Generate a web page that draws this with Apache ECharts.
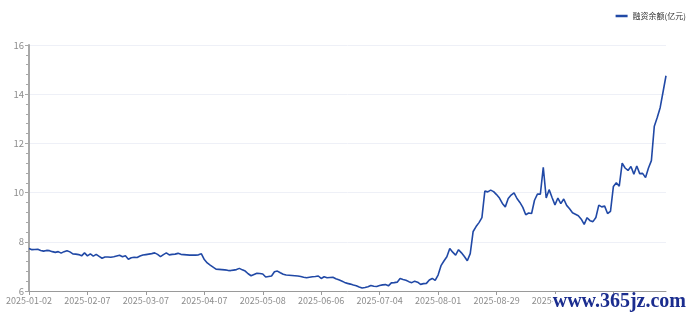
<!DOCTYPE html>
<html>
<head>
<meta charset="utf-8">
<script src="https://cdn.jsdelivr.net/npm/echarts@6/dist/echarts.min.js"></script>
<style>
html,body{margin:0;padding:0;background:#fff;}
#c{width:693px;height:316px;}
</style>
</head>
<body>
<div id="c"></div>
<script>
// Trading dates (MM-DD), 2025
const dateText = "01-02 01-03 01-06 01-07 01-08 01-09 01-10 01-13 01-14 01-15 01-16 01-17 01-20 01-21 01-22 01-23 01-24 01-27 " +
"02-05 02-06 02-07 02-10 02-11 02-12 02-13 02-14 02-17 02-18 02-19 02-20 02-21 02-24 02-25 02-26 02-27 02-28 " +
"03-03 03-04 03-05 03-06 03-07 03-10 03-11 03-12 03-13 03-14 03-17 03-18 03-19 03-20 03-21 03-24 03-25 03-26 03-27 03-28 03-31 " +
"04-01 04-02 04-03 04-07 04-08 04-09 04-10 04-11 04-14 04-15 04-16 04-17 04-18 04-21 04-22 04-23 04-24 04-25 04-28 04-29 04-30 " +
"05-06 05-07 05-08 05-09 05-12 05-13 05-14 05-15 05-16 05-19 05-20 05-21 05-22 05-23 05-26 05-27 05-28 05-29 05-30 " +
"06-03 06-04 06-05 06-06 06-09 06-10 06-11 06-12 06-13 06-16 06-17 06-18 06-19 06-20 06-23 06-24 06-25 06-26 06-27 06-30 " +
"07-01 07-02 07-03 07-04 07-07 07-08 07-09 07-10 07-11 07-14 07-15 07-16 07-17 07-18 07-21 07-22 07-23 07-24 07-25 07-28 07-29 07-30 07-31 " +
"08-01 08-04 08-05 08-06 08-07 08-08 08-11 08-12 08-13 08-14 08-15 08-18 08-19 08-20 08-21 08-22 08-25 08-26 08-27 08-28 08-29 " +
"09-01 09-02 09-03 09-04 09-05 09-08 09-09 09-10 09-11 09-12 09-15 09-16 09-17 09-18 09-19 09-22 09-23 09-24 09-25 09-26 09-29 09-30 " +
"10-09 10-10 10-13 10-14 10-15 10-16 10-17 10-20 10-21 10-22 10-23 10-24 10-27 10-28 10-29 10-30 10-31 " +
"11-03 11-04 11-05 11-06 11-07 11-10 11-11 11-12 11-13 11-14 11-17 11-18 11-19 11-20 11-21 11-24 11-25 11-26 11-27";
const categories = dateText.split(" ").map(d => "2025-" + d);

const seriesName = "融资余额(亿元)";
const balance = [
7.73,7.68,7.69,7.70,7.65,7.62,7.65,7.64,7.60,7.57,
7.60,7.54,7.60,7.64,7.59,7.51,7.50,7.48,7.43,7.55,
7.43,7.51,7.42,7.49,7.41,7.33,7.38,7.38,7.37,7.39,
7.42,7.45,7.39,7.43,7.29,7.35,7.37,7.36,7.42,7.46,
7.48,7.50,7.52,7.55,7.49,7.40,7.48,7.55,7.47,7.49,
7.50,7.53,7.49,7.48,7.47,7.46,7.46,7.46,7.47,7.51,
7.28,7.14,7.05,6.97,6.89,6.88,6.87,6.86,6.84,6.83,
6.85,6.87,6.92,6.86,6.81,6.70,6.62,6.67,6.72,6.71,
6.69,6.57,6.59,6.61,6.78,6.81,6.74,6.68,6.65,6.64,
6.63,6.62,6.61,6.59,6.56,6.54,6.56,6.58,6.59,6.61,
6.51,6.58,6.54,6.55,6.56,6.50,6.46,6.41,6.35,6.31,
6.28,6.24,6.21,6.16,6.12,6.14,6.17,6.22,6.19,6.18,
6.22,6.25,6.26,6.21,6.33,6.34,6.36,6.51,6.47,6.44,
6.38,6.34,6.40,6.36,6.27,6.30,6.31,6.45,6.51,6.43,
6.65,7.03,7.22,7.39,7.73,7.58,7.46,7.68,7.55,7.40,
7.23,7.52,8.42,8.62,8.78,8.98,10.06,10.03,10.10,10.04,
9.92,9.78,9.56,9.42,9.76,9.90,9.99,9.76,9.60,9.40,
9.10,9.17,9.15,9.69,9.94,9.94,11.03,9.78,10.12,9.80,
9.50,9.78,9.55,9.74,9.48,9.34,9.18,9.12,9.06,8.92,
8.71,8.98,8.86,8.82,8.99,9.49,9.42,9.45,9.15,9.24,
10.25,10.40,10.26,11.20,11.00,10.90,11.06,10.75,11.08,10.77,
10.78,10.61,11.00,11.30,12.70,13.05,13.45,14.10,14.75
];

const yMin = 6, yMax = 16, yStep = 2;
const watermark = "www.365jz.com";

const font = "'Noto Sans CJK SC', 'Open Sans', sans-serif";
const chart = echarts.init(document.getElementById('c'), null, {renderer: 'canvas'});
chart.setOption({
  animation: false,
  backgroundColor: '#fff',
  textStyle: {fontFamily: font},
  grid: {left: 29, right: 27, top: 45, bottom: 25, containLabel: false},
  legend: {
    data: [seriesName],
    right: 2, top: 7,
    icon: 'rect', itemWidth: 12, itemHeight: 2.5, itemGap: 4,
    textStyle: {fontSize: 8, color: '#333', fontFamily: font}
  },
  xAxis: {
    type: 'category',
    data: categories,
    boundaryGap: false,
    axisLine: {lineStyle: {color: '#9a9a9a', width: 1}},
    axisTick: {show: true, interval: 19, length: 4, lineStyle: {color: '#9a9a9a'}},
    axisLabel: {interval: 19, color: '#8c8c8c', fontSize: 9, margin: 5, fontFamily: font},
    splitLine: {show: false}
  },
  yAxis: {
    type: 'value',
    min: yMin, max: yMax, interval: yStep,
    axisLine: {show: true, lineStyle: {color: '#a8a8a8', width: 2}},
    axisTick: {show: true, length: 4, lineStyle: {color: '#a8a8a8'}},
    minorTick: {show: true, splitNumber: 5, length: 3, lineStyle: {color: '#a8a8a8'}},
    axisLabel: {color: '#8c8c8c', fontSize: 9.5, margin: 5, fontFamily: font},
    splitLine: {show: true, lineStyle: {color: '#eef0f7', width: 1}}
  },
  series: [{
    name: seriesName,
    type: 'line',
    data: balance,
    showSymbol: false,
    symbol: 'none',
    lineStyle: {color: '#2149a6', width: 1.6},
    itemStyle: {color: '#2149a6'}
  }],
  graphic: [{
    type: 'text',
    right: 6, bottom: 4,
    z: 100,
    style: {
      text: watermark,
      font: 'bold 20px "Liberation Serif", serif',
      lineHeight: 16,
      fill: '#1b2d8f',
      backgroundColor: '#fff',
      padding: [0, 1, 0, 0]
    }
  }]
});
</script>
</body>
</html>
